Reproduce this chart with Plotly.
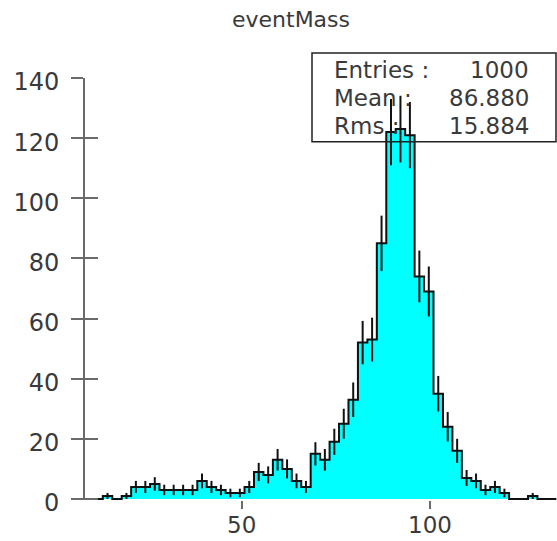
import numpy as np
import plotly.graph_objects as go

# ---- data ----
title_text = "eventMass"
x_min = 8.1          # lower edge of first bin
bin_width = 2.509    # 50 bins
counts = [0, 0, 1, 0, 1, 4, 4, 5, 3, 3,
          3, 3, 6, 4, 3, 2, 2, 4, 9, 8,
          13, 10, 6, 4, 15, 13, 19, 25, 33, 52,
          53, 85, 122, 123, 121, 74, 69, 35, 24, 16,
          7, 6, 3, 4, 2, 0, 0, 1, 0, 0]
stats_labels = ["Entries :", "Mean :", "Rms :"]
stats_values = ["1000", "86.880", "15.884"]
x_tick_vals = [50, 100]
y_tick_vals = [0, 20, 40, 60, 80, 100, 120, 140]

# ---- derived ----
n = len(counts)
edges = x_min + bin_width * np.arange(n + 1)
centers = edges[:-1] + bin_width / 2
step_y = counts + [counts[-1]]
errors = np.sqrt(np.array(counts, dtype=float))

FONT = "DejaVu Sans"
AXIS_GRAY = "#6a6a6a"
TEXT_GRAY = "#3a3a3a"

fig = go.Figure()

# cyan filled histogram
fig.add_trace(go.Scatter(
    x=edges, y=step_y, mode="lines", line=dict(shape="hv", width=0),
    fill="tozeroy", fillcolor="#00FFFF", hoverinfo="skip", showlegend=False))

# black step outline
fig.add_trace(go.Scatter(
    x=edges, y=step_y, mode="lines", line=dict(shape="hv", width=2, color="#111111"),
    hoverinfo="skip", showlegend=False))

# error bars
fig.add_trace(go.Scatter(
    x=centers, y=counts, mode="markers",
    marker=dict(size=1, color="rgba(0,0,0,0)"),
    error_y=dict(type="data", array=errors, symmetric=True, width=0,
                 thickness=2, color="#111111"),
    hoverinfo="skip", showlegend=False))

# dummy trace to activate the overlay axis with inner tick marks
fig.add_trace(go.Scatter(x=[None], y=[None], yaxis="y2", showlegend=False, hoverinfo="skip"))

fig.update_layout(
    width=557, height=541,
    margin=dict(l=85, r=0, t=78, b=41, autoexpand=False),
    paper_bgcolor="white", plot_bgcolor="white",
    title=dict(text=title_text, x=291 / 557, xanchor="center",
               y=1 - 19 / 541, yanchor="middle", xref="container", yref="container",
               font=dict(family=FONT, size=22, color=TEXT_GRAY)),
    xaxis=dict(range=[8.39, 133.72], tickmode="array", tickvals=x_tick_vals,
               ticks="outside", ticklen=8, tickwidth=1.5, tickcolor=AXIS_GRAY,
               showline=False, showgrid=False, zeroline=False, automargin=False,
               ticklabelstandoff=-4,
               tickfont=dict(family=FONT, size=23, color=TEXT_GRAY)),
    yaxis=dict(range=[-0.35, 140], tickmode="array", tickvals=y_tick_vals,
               ticks="outside", ticklen=12, tickwidth=2, tickcolor=AXIS_GRAY,
               showline=True, linecolor=AXIS_GRAY, linewidth=2, automargin=False,
               showgrid=False, zeroline=False, ticklabelstandoff=7,
               ticklabelshift=4,
               tickfont=dict(family=FONT, size=24, color=TEXT_GRAY)),
    yaxis2=dict(range=[-0.35, 140], tickmode="array", tickvals=y_tick_vals,
                overlaying="y", side="left", ticks="inside", ticklen=13,
                tickwidth=2, tickcolor=AXIS_GRAY, showticklabels=False,
                automargin=False,
                showline=False, showgrid=False, zeroline=False),
    showlegend=False,
)

# statistics box
plot_w = 557 - 85
plot_top, plot_bot = 78, 499
def px_x(p):
    return (p - 85) / plot_w
def px_y(p):
    return (plot_bot - p) / (plot_bot - plot_top)

fig.add_shape(type="rect", xref="paper", yref="paper",
              x0=px_x(312), x1=px_x(556), y0=px_y(141.5), y1=px_y(53),
              line=dict(color="#222222", width=1.5), fillcolor="rgba(0,0,0,0)",
              layer="above")

row_y = [70, 98, 126]
for lab, val, yy in zip(stats_labels, stats_values, row_y):
    fig.add_annotation(x=px_x(332), y=px_y(yy), xref="paper", yref="paper",
                       text=lab, showarrow=False, xanchor="left", yanchor="middle",
                       font=dict(family=FONT, size=23, color=TEXT_GRAY))
    fig.add_annotation(x=px_x(531), y=px_y(yy), xref="paper", yref="paper",
                       text=val, showarrow=False, xanchor="right", yanchor="middle",
                       font=dict(family=FONT, size=23, color=TEXT_GRAY))

fig.write_html("out.html")
